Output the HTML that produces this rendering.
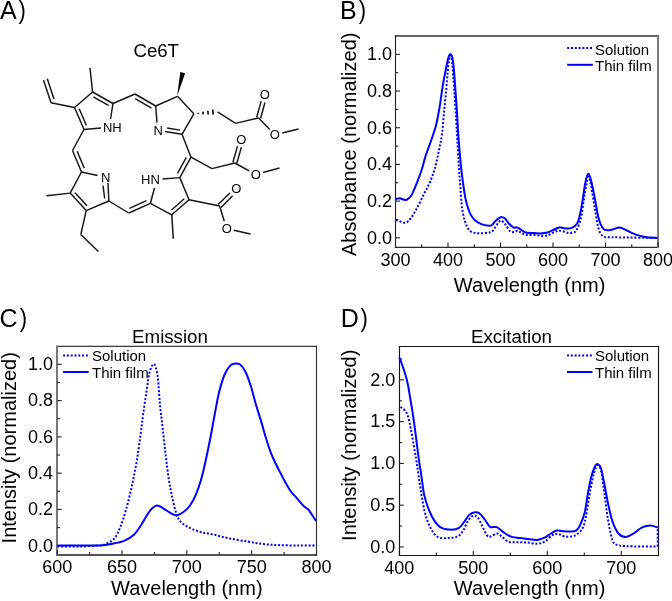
<!DOCTYPE html>
<html><head><meta charset="utf-8"><style>
html,body{margin:0;padding:0;background:#fff;}
svg{display:block;}
text{font-family:"Liberation Sans", sans-serif;fill:#000;}
svg{will-change:transform;}
</style></head><body>
<svg width="672" height="601" viewBox="0 0 672 601">
<rect width="672" height="601" fill="#fff"/>
<text x="0" y="18.6" font-size="25" text-anchor="start">A</text>
<text x="0" y="0" font-size="26" transform="translate(18.5 18.6) scale(0.85 1)">)</text>
<text x="340.1" y="19" font-size="25" text-anchor="start">B</text>
<text x="0" y="0" font-size="26" transform="translate(358.8 19) scale(0.85 1)">)</text>
<text x="-0.5" y="326.6" font-size="25" text-anchor="start">C</text>
<text x="0" y="0" font-size="26" transform="translate(19.8 326.6) scale(0.85 1)">)</text>
<text x="340.75" y="327" font-size="25" text-anchor="start">D</text>
<text x="0" y="0" font-size="26" transform="translate(360.6 327) scale(0.85 1)">)</text>
<text x="133.5" y="56.5" font-size="18.6" text-anchor="start">Ce6T</text>
<line x1="394.95" y1="36" x2="659" y2="36" stroke="#666" stroke-width="2"/>
<line x1="394.95" y1="247.4" x2="659" y2="247.4" stroke="#2a2a2a" stroke-width="1.2"/>
<line x1="395.5" y1="35" x2="395.5" y2="248" stroke="#1e1e1e" stroke-width="1.1"/>
<line x1="658" y1="35" x2="658" y2="248" stroke="#777" stroke-width="2"/>
<line x1="395.5" y1="247" x2="395.5" y2="242.5" stroke="#222" stroke-width="1.1"/>
<line x1="448" y1="247" x2="448" y2="242.5" stroke="#222" stroke-width="1.1"/>
<line x1="500.5" y1="247" x2="500.5" y2="242.5" stroke="#222" stroke-width="1.1"/>
<line x1="553" y1="247" x2="553" y2="242.5" stroke="#222" stroke-width="1.1"/>
<line x1="605.5" y1="247" x2="605.5" y2="242.5" stroke="#222" stroke-width="1.1"/>
<line x1="658" y1="247" x2="658" y2="242.5" stroke="#222" stroke-width="1.1"/>
<line x1="421.75" y1="247" x2="421.75" y2="244.2" stroke="#222" stroke-width="1.1"/>
<line x1="474.25" y1="247" x2="474.25" y2="244.2" stroke="#222" stroke-width="1.1"/>
<line x1="526.75" y1="247" x2="526.75" y2="244.2" stroke="#222" stroke-width="1.1"/>
<line x1="579.25" y1="247" x2="579.25" y2="244.2" stroke="#222" stroke-width="1.1"/>
<line x1="631.75" y1="247" x2="631.75" y2="244.2" stroke="#222" stroke-width="1.1"/>
<line x1="395.5" y1="237.83" x2="400" y2="237.83" stroke="#222" stroke-width="1.1"/>
<line x1="395.5" y1="201.13" x2="400" y2="201.13" stroke="#222" stroke-width="1.1"/>
<line x1="395.5" y1="164.43" x2="400" y2="164.43" stroke="#222" stroke-width="1.1"/>
<line x1="395.5" y1="127.74" x2="400" y2="127.74" stroke="#222" stroke-width="1.1"/>
<line x1="395.5" y1="91.04" x2="400" y2="91.04" stroke="#222" stroke-width="1.1"/>
<line x1="395.5" y1="54.35" x2="400" y2="54.35" stroke="#222" stroke-width="1.1"/>
<line x1="395.5" y1="219.48" x2="398.3" y2="219.48" stroke="#222" stroke-width="1.1"/>
<line x1="395.5" y1="182.78" x2="398.3" y2="182.78" stroke="#222" stroke-width="1.1"/>
<line x1="395.5" y1="146.09" x2="398.3" y2="146.09" stroke="#222" stroke-width="1.1"/>
<line x1="395.5" y1="109.39" x2="398.3" y2="109.39" stroke="#222" stroke-width="1.1"/>
<line x1="395.5" y1="72.7" x2="398.3" y2="72.7" stroke="#222" stroke-width="1.1"/>
<text x="395.5" y="265.6" font-size="18" text-anchor="middle">300</text>
<text x="448" y="265.6" font-size="18" text-anchor="middle">400</text>
<text x="500.5" y="265.6" font-size="18" text-anchor="middle">500</text>
<text x="553" y="265.6" font-size="18" text-anchor="middle">600</text>
<text x="605.5" y="265.6" font-size="18" text-anchor="middle">700</text>
<text x="658" y="265.6" font-size="18" text-anchor="middle">800</text>
<text x="392" y="243.63" font-size="18" text-anchor="end">0.0</text>
<text x="392" y="206.93" font-size="18" text-anchor="end">0.2</text>
<text x="392" y="170.23" font-size="18" text-anchor="end">0.4</text>
<text x="392" y="133.54" font-size="18" text-anchor="end">0.6</text>
<text x="392" y="96.84" font-size="18" text-anchor="end">0.8</text>
<text x="392" y="60.15" font-size="18" text-anchor="end">1.0</text>
<text x="529.6" y="291.8" font-size="20" text-anchor="middle">Wavelength (nm)</text>
<text x="356.3" y="144.3" font-size="20" text-anchor="middle" transform="rotate(-90 356.3 144.3)">Absorbance (normalized)</text>
<line x1="567.2" y1="48" x2="592.8" y2="48" stroke="#0000ff" stroke-width="2" stroke-dasharray="2 1.8"/>
<line x1="567.2" y1="64.8" x2="592.8" y2="64.8" stroke="#0000ff" stroke-width="2"/>
<text x="595" y="54.5" font-size="15" text-anchor="start">Solution</text>
<text x="595" y="71.2" font-size="15" text-anchor="start">Thin film</text>
<path d="M396,198.9 C396.67,198.8 398.75,198.18 400,198.3 C401.25,198.42 402.33,199.38 403.5,199.6 C404.67,199.82 405.6,200.47 407,199.6 C408.4,198.73 410.17,197.4 411.9,194.4 C413.63,191.4 415.72,185.87 417.4,181.6 C419.08,177.33 420.63,173.08 422,168.8 C423.37,164.52 424.23,160.18 425.6,155.9 C426.97,151.62 428.52,147.98 430.2,143.1 C431.88,138.22 434.17,132.4 435.7,126.6 C437.23,120.8 438.33,114.4 439.4,108.3 C440.47,102.2 441.4,94.55 442.1,90 C442.8,85.45 442.92,84.75 443.6,81 C444.28,77.25 445.4,71.42 446.2,67.5 C447,63.58 447.7,59.72 448.4,57.5 C449.1,55.28 449.77,54.28 450.4,54.2 C451.03,54.12 451.65,54.78 452.2,57 C452.75,59.22 453.2,62.52 453.7,67.5 C454.2,72.48 454.7,80.17 455.2,86.9 C455.7,93.63 456.23,100.72 456.7,107.9 C457.17,115.08 457.53,122.98 458,130 C458.47,137.02 458.93,143.33 459.5,150 C460.07,156.67 460.73,163.97 461.4,170 C462.07,176.03 462.87,181.68 463.5,186.2 C464.13,190.72 464.57,193.85 465.2,197.1 C465.83,200.35 466.4,202.82 467.3,205.7 C468.2,208.58 469.33,211.97 470.6,214.4 C471.87,216.83 473.1,218.68 474.9,220.3 C476.7,221.92 479.05,223.2 481.4,224.1 C483.75,225 487.28,225.52 489,225.7 C490.72,225.88 490.62,226 491.7,225.2 C492.78,224.4 494.15,222.17 495.5,220.9 C496.85,219.63 498.83,218.25 499.8,217.6 C500.77,216.95 500.43,216.85 501.3,217 C502.17,217.15 503.77,217.45 505,218.5 C506.23,219.55 507.33,221.82 508.7,223.3 C510.07,224.78 511.83,226.72 513.2,227.4 C514.57,228.08 515.78,227.15 516.9,227.4 C518.02,227.65 518.55,228.1 519.9,228.9 C521.25,229.7 522.9,231.52 525,232.2 C527.1,232.88 530,232.8 532.5,233 C535,233.2 537.52,233.48 540,233.4 C542.48,233.32 545.18,233.07 547.4,232.5 C549.62,231.93 551.32,230.85 553.3,230 C555.28,229.15 557.32,227.67 559.3,227.4 C561.28,227.13 563.42,228.23 565.2,228.4 C566.98,228.57 568.38,228.8 570,228.4 C571.62,228 573.47,227.38 574.9,226 C576.33,224.62 577.37,224.07 578.6,220.1 C579.83,216.13 581.18,208.4 582.3,202.2 C583.42,196 584.3,187.63 585.3,182.9 C586.3,178.17 587.3,174.05 588.3,173.8 C589.3,173.55 590.18,177.17 591.3,181.4 C592.42,185.63 593.77,193 595,199.2 C596.23,205.4 597.33,213.68 598.7,218.6 C600.07,223.52 601.47,226.77 603.2,228.7 C604.93,230.63 607.3,230.15 609.1,230.2 C610.9,230.25 612.27,229.45 614,229 C615.73,228.55 617.33,227.25 619.5,227.5 C621.67,227.75 624.27,229.32 627,230.5 C629.73,231.68 632.68,233.48 635.9,234.6 C639.12,235.72 642.7,236.65 646.3,237.2 C649.9,237.75 655.63,237.78 657.5,237.9" fill="none" stroke="#0000ff" stroke-width="2" stroke-linejoin="round"/>
<path d="M396,219.8 C396.83,220.13 399.33,221.33 401,221.8 C402.67,222.27 404.33,223.23 406,222.6 C407.67,221.97 409.17,220.43 411,218 C412.83,215.57 414.83,212 417,208 C419.17,204 421.83,198.33 424,194 C426.17,189.67 428.17,186.33 430,182 C431.83,177.67 433.5,173.33 435,168 C436.5,162.67 437.83,155.67 439,150 C440.17,144.33 441.17,140.27 442,134 C442.83,127.73 443.3,119.75 444,112.4 C444.7,105.05 445.58,96.63 446.2,89.9 C446.82,83.17 447.2,77.23 447.7,72 C448.2,66.77 448.75,61.25 449.2,58.5 C449.65,55.75 449.95,55.25 450.4,55.5 C450.85,55.75 451.43,56.75 451.9,60 C452.37,63.25 452.73,68.77 453.2,75 C453.67,81.23 454.2,89.92 454.7,97.4 C455.2,104.88 455.77,112.8 456.2,119.9 C456.63,127 456.92,133.32 457.3,140 C457.68,146.68 458.18,154.63 458.5,160 C458.82,165.37 458.9,167.83 459.2,172.2 C459.5,176.57 459.93,181.15 460.3,186.2 C460.67,191.25 460.95,197.98 461.4,202.5 C461.85,207.02 462.37,210.05 463,213.3 C463.63,216.55 464.3,219.38 465.2,222 C466.1,224.62 467.23,227.3 468.4,229 C469.57,230.7 470.4,231.48 472.2,232.2 C474,232.92 476.58,233.23 479.2,233.3 C481.82,233.37 485.82,232.87 487.9,232.6 C489.98,232.33 490.62,232.4 491.7,231.7 C492.78,231 493.32,229.85 494.4,228.4 C495.48,226.95 497.05,224.3 498.2,223 C499.35,221.7 500.05,220.3 501.3,220.6 C502.55,220.9 504.22,222.98 505.7,224.8 C507.18,226.62 508.83,230.32 510.2,231.5 C511.57,232.68 512.67,232.03 513.9,231.9 C515.13,231.77 516.37,230.52 517.6,230.7 C518.83,230.88 519.82,232.3 521.3,233 C522.78,233.7 524.38,234.58 526.5,234.9 C528.62,235.22 531.27,234.73 534,234.9 C536.73,235.07 540.42,235.9 542.9,235.9 C545.38,235.9 546.92,235.57 548.9,234.9 C550.88,234.23 553.07,232.6 554.8,231.9 C556.53,231.2 557.57,230.7 559.3,230.7 C561.03,230.7 563.6,231.48 565.2,231.9 C566.8,232.32 567.6,233.1 568.9,233.2 C570.2,233.3 571.75,233 573,232.5 C574.25,232 575.1,232.52 576.4,230.2 C577.7,227.88 579.43,224.5 580.8,218.6 C582.17,212.7 583.35,201.75 584.6,194.8 C585.85,187.85 587.18,178.15 588.3,176.9 C589.42,175.65 590.18,181.85 591.3,187.3 C592.42,192.75 593.77,202.65 595,209.6 C596.23,216.55 597.33,224.53 598.7,229 C600.07,233.47 601.32,235.03 603.2,236.4 C605.08,237.77 607.28,237.03 610,237.2 C612.72,237.37 611.58,237.28 619.5,237.4 C627.42,237.52 651.17,237.82 657.5,237.9" fill="none" stroke="#0000ff" stroke-width="2" stroke-dasharray="2 1.8" stroke-linejoin="round"/>
<line x1="56" y1="346.3" x2="317.05" y2="346.3" stroke="#3a3a3a" stroke-width="1.3"/>
<line x1="56" y1="555" x2="317.05" y2="555" stroke="#555" stroke-width="1.8"/>
<line x1="57" y1="345.65" x2="57" y2="555.9" stroke="#777" stroke-width="2"/>
<line x1="316.5" y1="345.65" x2="316.5" y2="555.9" stroke="#2e2e2e" stroke-width="1.1"/>
<line x1="57.2" y1="554.8" x2="57.2" y2="550.3" stroke="#222" stroke-width="1.1"/>
<line x1="122.03" y1="554.8" x2="122.03" y2="550.3" stroke="#222" stroke-width="1.1"/>
<line x1="186.85" y1="554.8" x2="186.85" y2="550.3" stroke="#222" stroke-width="1.1"/>
<line x1="251.68" y1="554.8" x2="251.68" y2="550.3" stroke="#222" stroke-width="1.1"/>
<line x1="316.5" y1="554.8" x2="316.5" y2="550.3" stroke="#222" stroke-width="1.1"/>
<line x1="89.61" y1="554.8" x2="89.61" y2="552" stroke="#222" stroke-width="1.1"/>
<line x1="154.44" y1="554.8" x2="154.44" y2="552" stroke="#222" stroke-width="1.1"/>
<line x1="219.26" y1="554.8" x2="219.26" y2="552" stroke="#222" stroke-width="1.1"/>
<line x1="284.09" y1="554.8" x2="284.09" y2="552" stroke="#222" stroke-width="1.1"/>
<line x1="57.2" y1="545.73" x2="61.7" y2="545.73" stroke="#222" stroke-width="1.1"/>
<line x1="57.2" y1="509.45" x2="61.7" y2="509.45" stroke="#222" stroke-width="1.1"/>
<line x1="57.2" y1="473.17" x2="61.7" y2="473.17" stroke="#222" stroke-width="1.1"/>
<line x1="57.2" y1="436.9" x2="61.7" y2="436.9" stroke="#222" stroke-width="1.1"/>
<line x1="57.2" y1="400.62" x2="61.7" y2="400.62" stroke="#222" stroke-width="1.1"/>
<line x1="57.2" y1="364.34" x2="61.7" y2="364.34" stroke="#222" stroke-width="1.1"/>
<line x1="57.2" y1="527.59" x2="60" y2="527.59" stroke="#222" stroke-width="1.1"/>
<line x1="57.2" y1="491.31" x2="60" y2="491.31" stroke="#222" stroke-width="1.1"/>
<line x1="57.2" y1="455.03" x2="60" y2="455.03" stroke="#222" stroke-width="1.1"/>
<line x1="57.2" y1="418.76" x2="60" y2="418.76" stroke="#222" stroke-width="1.1"/>
<line x1="57.2" y1="382.48" x2="60" y2="382.48" stroke="#222" stroke-width="1.1"/>
<text x="57.2" y="572.8" font-size="18" text-anchor="middle">600</text>
<text x="122.03" y="572.8" font-size="18" text-anchor="middle">650</text>
<text x="186.85" y="572.8" font-size="18" text-anchor="middle">700</text>
<text x="251.68" y="572.8" font-size="18" text-anchor="middle">750</text>
<text x="316.5" y="572.8" font-size="18" text-anchor="middle">800</text>
<text x="53.1" y="551.53" font-size="18" text-anchor="end">0.0</text>
<text x="53.1" y="515.25" font-size="18" text-anchor="end">0.2</text>
<text x="53.1" y="478.97" font-size="18" text-anchor="end">0.4</text>
<text x="53.1" y="442.7" font-size="18" text-anchor="end">0.6</text>
<text x="53.1" y="406.42" font-size="18" text-anchor="end">0.8</text>
<text x="53.1" y="370.14" font-size="18" text-anchor="end">1.0</text>
<text x="170" y="342.6" font-size="18.7" text-anchor="middle">Emission</text>
<text x="186.8" y="594.8" font-size="20" text-anchor="middle">Wavelength (nm)</text>
<text x="16.4" y="447.8" font-size="20" text-anchor="middle" transform="rotate(-90 16.4 447.8)">Intensity (normalized)</text>
<line x1="63.1" y1="355.6" x2="88.7" y2="355.6" stroke="#0000ff" stroke-width="2" stroke-dasharray="2 1.8"/>
<line x1="63.1" y1="372" x2="88.7" y2="372" stroke="#0000ff" stroke-width="2"/>
<text x="92" y="361.1" font-size="15" text-anchor="start">Solution</text>
<text x="92" y="377.5" font-size="15" text-anchor="start">Thin film</text>
<path d="M57.5,545.5 C61.25,545.48 72.92,545.42 80,545.4 C87.08,545.38 94.67,545.67 100,545.4 C105.33,545.13 108,544.57 112,543.8 C116,543.03 120.35,542.3 124,540.8 C127.65,539.3 130.92,537.63 133.9,534.8 C136.88,531.97 139.23,527.8 141.9,523.8 C144.57,519.8 147.4,513.87 149.9,510.8 C152.4,507.73 154.57,505.73 156.9,505.4 C159.23,505.07 161.4,507.4 163.9,508.8 C166.4,510.2 169.75,512.7 171.9,513.8 C174.05,514.9 174.82,515.73 176.8,515.4 C178.78,515.07 181.6,513.45 183.8,511.8 C186,510.15 188,508.33 190,505.5 C192,502.67 194.03,498.83 195.8,494.8 C197.57,490.77 199.05,486.57 200.6,481.3 C202.15,476.03 203.45,470.55 205.1,463.2 C206.75,455.85 208.87,445.5 210.5,437.2 C212.13,428.9 213.45,420.97 214.9,413.4 C216.35,405.83 217.58,398.28 219.2,391.8 C220.82,385.32 222.8,378.83 224.6,374.5 C226.4,370.17 228.38,367.6 230,365.8 C231.62,364 232.67,363.95 234.3,363.7 C235.93,363.45 237.98,363.05 239.8,364.3 C241.62,365.55 243.4,367.7 245.2,371.2 C247,374.7 248.8,379.7 250.6,385.3 C252.4,390.9 254.2,398.67 256,404.8 C257.8,410.93 259.78,416.7 261.4,422.1 C263.02,427.5 264.08,431.98 265.7,437.2 C267.32,442.42 269.3,448.72 271.1,453.4 C272.9,458.08 274.85,461.87 276.5,465.3 C278.15,468.73 279.62,471.33 281,474 C282.38,476.67 283.2,478.47 284.8,481.3 C286.4,484.13 288.67,488.27 290.6,491 C292.53,493.73 294.15,495.13 296.4,497.7 C298.65,500.27 302,504.3 304.1,506.4 C306.2,508.5 307.02,507.87 309,510.3 C310.98,512.73 314.83,519.22 316,521" fill="none" stroke="#0000ff" stroke-width="2" stroke-linejoin="round"/>
<path d="M57.5,546.6 C61.25,546.57 72.92,546.6 80,546.4 C87.08,546.2 95.67,545.83 100,545.4 C104.33,544.97 103.67,544.9 106,543.8 C108.33,542.7 111.67,541.47 114,538.8 C116.33,536.13 118,532.63 120,527.8 C122,522.97 124.02,516.78 126,509.8 C127.98,502.82 130.08,494.2 131.9,485.9 C133.72,477.6 135.4,468.98 136.9,460 C138.4,451.02 139.88,439.5 140.9,432 C141.92,424.5 142.15,421.17 143,415 C143.85,408.83 145,401.67 146,395 C147,388.33 148.08,379.67 149,375 C149.92,370.33 150.73,368.83 151.5,367 C152.27,365.17 152.88,363.92 153.6,364 C154.32,364.08 155.07,365 155.8,367.5 C156.53,370 157.3,372.75 158,379 C158.7,385.25 159.17,396.33 160,405 C160.83,413.67 162.02,422.33 163,431 C163.98,439.67 164.92,448.85 165.9,457 C166.88,465.15 167.9,473.42 168.9,479.9 C169.9,486.38 170.75,490.58 171.9,495.9 C173.05,501.22 174.48,507.65 175.8,511.8 C177.12,515.95 177.8,518.3 179.8,520.8 C181.8,523.3 184.47,524.97 187.8,526.8 C191.13,528.63 195.57,530.52 199.8,531.8 C204.03,533.08 208.38,533.42 213.2,534.5 C218.02,535.58 222.9,537.12 228.7,538.3 C234.5,539.48 242.2,540.63 248,541.6 C253.8,542.57 258.33,543.52 263.5,544.1 C268.67,544.68 273.2,544.87 279,545.1 C284.8,545.33 292.13,545.43 298.3,545.5 C304.47,545.57 313.05,545.5 316,545.5" fill="none" stroke="#0000ff" stroke-width="2" stroke-dasharray="2 1.8" stroke-linejoin="round"/>
<line x1="398.93" y1="346.5" x2="659.08" y2="346.5" stroke="#151515" stroke-width="1.15"/>
<line x1="398.93" y1="555.5" x2="659.08" y2="555.5" stroke="#151515" stroke-width="1.15"/>
<line x1="399.5" y1="345.93" x2="399.5" y2="556.08" stroke="#151515" stroke-width="1.15"/>
<line x1="658.5" y1="345.93" x2="658.5" y2="556.08" stroke="#151515" stroke-width="1.15"/>
<line x1="399.3" y1="555.3" x2="399.3" y2="550.8" stroke="#222" stroke-width="1.1"/>
<line x1="473.3" y1="555.3" x2="473.3" y2="550.8" stroke="#222" stroke-width="1.1"/>
<line x1="547.3" y1="555.3" x2="547.3" y2="550.8" stroke="#222" stroke-width="1.1"/>
<line x1="621.3" y1="555.3" x2="621.3" y2="550.8" stroke="#222" stroke-width="1.1"/>
<line x1="436.3" y1="555.3" x2="436.3" y2="552.5" stroke="#222" stroke-width="1.1"/>
<line x1="510.3" y1="555.3" x2="510.3" y2="552.5" stroke="#222" stroke-width="1.1"/>
<line x1="584.3" y1="555.3" x2="584.3" y2="552.5" stroke="#222" stroke-width="1.1"/>
<line x1="399.3" y1="546.95" x2="403.8" y2="546.95" stroke="#222" stroke-width="1.1"/>
<line x1="399.3" y1="505.19" x2="403.8" y2="505.19" stroke="#222" stroke-width="1.1"/>
<line x1="399.3" y1="463.43" x2="403.8" y2="463.43" stroke="#222" stroke-width="1.1"/>
<line x1="399.3" y1="421.67" x2="403.8" y2="421.67" stroke="#222" stroke-width="1.1"/>
<line x1="399.3" y1="379.91" x2="403.8" y2="379.91" stroke="#222" stroke-width="1.1"/>
<line x1="399.3" y1="526.07" x2="402.1" y2="526.07" stroke="#222" stroke-width="1.1"/>
<line x1="399.3" y1="484.31" x2="402.1" y2="484.31" stroke="#222" stroke-width="1.1"/>
<line x1="399.3" y1="442.55" x2="402.1" y2="442.55" stroke="#222" stroke-width="1.1"/>
<line x1="399.3" y1="400.79" x2="402.1" y2="400.79" stroke="#222" stroke-width="1.1"/>
<line x1="399.3" y1="359.03" x2="402.1" y2="359.03" stroke="#222" stroke-width="1.1"/>
<text x="399.3" y="574" font-size="18" text-anchor="middle">400</text>
<text x="473.3" y="574" font-size="18" text-anchor="middle">500</text>
<text x="547.3" y="574" font-size="18" text-anchor="middle">600</text>
<text x="621.3" y="574" font-size="18" text-anchor="middle">700</text>
<text x="395.4" y="552.75" font-size="18" text-anchor="end">0.0</text>
<text x="395.4" y="510.99" font-size="18" text-anchor="end">0.5</text>
<text x="395.4" y="469.23" font-size="18" text-anchor="end">1.0</text>
<text x="395.4" y="427.47" font-size="18" text-anchor="end">1.5</text>
<text x="395.4" y="385.71" font-size="18" text-anchor="end">2.0</text>
<text x="511.5" y="342.6" font-size="18.7" text-anchor="middle">Excitation</text>
<text x="529.6" y="595" font-size="20" text-anchor="middle">Wavelength (nm)</text>
<text x="356" y="445.3" font-size="20" text-anchor="middle" transform="rotate(-90 356 445.3)">Intensity (normalized)</text>
<line x1="567" y1="355.6" x2="592.5" y2="355.6" stroke="#0000ff" stroke-width="2" stroke-dasharray="2 1.8"/>
<line x1="567" y1="372" x2="592.5" y2="372" stroke="#0000ff" stroke-width="2"/>
<text x="595" y="361.1" font-size="15" text-anchor="start">Solution</text>
<text x="595" y="377.5" font-size="15" text-anchor="start">Thin film</text>
<path d="M399.3,357.5 C399.78,358.75 401.17,362.08 402.2,365 C403.23,367.92 404.53,371.67 405.5,375 C406.47,378.33 407.17,380.83 408,385 C408.83,389.17 409.67,395 410.5,400 C411.33,405 412.17,409.45 413,415 C413.83,420.55 414.55,426.08 415.5,433.3 C416.45,440.52 417.7,451.08 418.7,458.3 C419.7,465.52 420.58,470.5 421.5,476.6 C422.42,482.7 422.98,489.4 424.2,494.9 C425.42,500.4 427.12,505.32 428.8,509.6 C430.48,513.88 432.17,517.55 434.3,520.6 C436.43,523.65 438.7,526.38 441.6,527.9 C444.5,529.42 448.8,529.7 451.7,529.7 C454.6,529.7 456.87,529.27 459,527.9 C461.13,526.53 462.82,523.63 464.5,521.5 C466.18,519.37 467.35,516.63 469.1,515.1 C470.85,513.57 473.3,512.62 475,512.3 C476.7,511.98 477.62,511.92 479.3,513.2 C480.98,514.48 483.32,517.73 485.1,520 C486.88,522.27 488.05,525.62 490,526.8 C491.95,527.98 494.7,526.3 496.8,527.1 C498.9,527.9 500.35,530.05 502.6,531.6 C504.85,533.15 507.4,535.33 510.3,536.4 C513.2,537.47 516.78,537.52 520,538 C523.22,538.48 526.7,538.98 529.6,539.3 C532.5,539.62 534.82,540.22 537.4,539.9 C539.98,539.58 542.85,538.47 545.1,537.4 C547.35,536.33 548.97,534.63 550.9,533.5 C552.83,532.37 554.77,530.98 556.7,530.6 C558.63,530.22 560.23,531.03 562.5,531.2 C564.77,531.37 568.03,531.7 570.3,531.6 C572.57,531.5 574.48,531.63 576.1,530.6 C577.72,529.57 578.57,528.4 580,525.4 C581.43,522.4 583.33,518.23 584.7,512.6 C586.07,506.97 587.03,497.82 588.2,491.6 C589.37,485.38 590.53,479.58 591.7,475.3 C592.87,471.02 594.15,467.77 595.2,465.9 C596.25,464.03 597.03,463.7 598,464.1 C598.97,464.5 599.92,464.88 601,468.3 C602.08,471.72 603.33,478.78 604.5,484.6 C605.67,490.42 606.65,496.98 608,503.2 C609.35,509.42 610.85,516.85 612.6,521.9 C614.35,526.95 616.35,530.98 618.5,533.5 C620.65,536.02 622.98,537 625.5,537 C628.02,537 630.88,535.05 633.6,533.5 C636.32,531.95 639,529.02 641.8,527.7 C644.6,526.38 647.73,525.62 650.4,525.6 C653.07,525.58 656.57,527.27 657.8,527.6" fill="none" stroke="#0000ff" stroke-width="2" stroke-linejoin="round"/>
<path d="M400.5,407 C401.05,407.37 402.68,408 403.8,409.2 C404.92,410.4 406.22,411.85 407.2,414.2 C408.18,416.55 408.87,419.55 409.7,423.3 C410.53,427.05 411.15,430.87 412.2,436.7 C413.25,442.53 414.92,451.65 416,458.3 C417.08,464.95 417.78,470.5 418.7,476.6 C419.62,482.7 420.43,488.78 421.5,494.9 C422.57,501.02 423.58,507.8 425.1,513.3 C426.62,518.8 428.45,523.93 430.6,527.9 C432.75,531.87 434.93,535.42 438,537.1 C441.07,538.78 445.65,538.15 449,538 C452.35,537.85 455.67,537.58 458.1,536.2 C460.53,534.82 461.92,532.3 463.6,529.7 C465.28,527.1 466.7,522.87 468.2,520.6 C469.7,518.33 471.07,516.68 472.6,516.1 C474.13,515.52 475.8,515.48 477.4,517.1 C479,518.72 480.58,522.73 482.2,525.8 C483.82,528.87 485.63,533.73 487.1,535.5 C488.57,537.27 489.38,536.73 491,536.4 C492.62,536.07 495.03,533.5 496.8,533.5 C498.57,533.5 499.67,535.02 501.6,536.4 C503.53,537.78 505.67,540.83 508.4,541.8 C511.13,542.77 514.78,542.07 518,542.2 C521.22,542.33 524.47,542.33 527.7,542.6 C530.93,542.87 534.5,544.02 537.4,543.8 C540.3,543.58 542.53,542.78 545.1,541.3 C547.67,539.82 550.55,536.1 552.8,534.9 C555.05,533.7 556.67,533.85 558.6,534.1 C560.53,534.35 562.13,536.02 564.4,536.4 C566.67,536.78 569.93,536.88 572.2,536.4 C574.47,535.92 576.23,534.95 578,533.5 C579.77,532.05 581.5,530.42 582.8,527.7 C584.1,524.98 584.52,523.6 585.8,517.2 C587.08,510.8 589.13,496.68 590.5,489.3 C591.87,481.92 592.83,476.87 594,472.9 C595.17,468.93 596.33,465.88 597.5,465.5 C598.67,465.12 599.83,465.87 601,470.6 C602.17,475.33 603.33,485.73 604.5,493.9 C605.67,502.07 606.65,511.83 608,519.6 C609.35,527.37 610.85,536.23 612.6,540.5 C614.35,544.77 615,544.22 618.5,545.2 C622,546.18 627.1,546.2 633.6,546.4 C640.1,546.6 653.52,546.4 657.5,546.4" fill="none" stroke="#0000ff" stroke-width="2" stroke-dasharray="2 1.8" stroke-linejoin="round"/>
<line x1="657.7" y1="546.4" x2="657.7" y2="527.8" stroke="#0000ff" stroke-width="2" stroke-dasharray="2 1.8"/>
<g stroke="#151515" stroke-width="1.45" stroke-linecap="butt" fill="none">
<line x1="43.50" y1="80.00" x2="51.00" y2="102.80"/>
<line x1="47.30" y1="78.75" x2="53.96" y2="98.99"/>
<line x1="51.00" y1="102.80" x2="74.50" y2="107.50"/>
<line x1="74.50" y1="107.50" x2="92.60" y2="92.00"/>
<line x1="92.60" y1="92.00" x2="90.00" y2="68.00"/>
<line x1="92.60" y1="92.00" x2="113.00" y2="103.50"/>
<line x1="93.35" y1="96.78" x2="108.52" y2="105.34"/>
<line x1="113.00" y1="103.50" x2="110.50" y2="119.00"/>
<line x1="84.00" y1="129.50" x2="101.00" y2="128.00"/>
<line x1="84.00" y1="129.50" x2="74.50" y2="107.50"/>
<line x1="86.30" y1="125.24" x2="79.18" y2="108.75"/>
<line x1="113.00" y1="103.50" x2="135.00" y2="94.00"/>
<line x1="135.00" y1="94.00" x2="155.70" y2="106.00"/>
<line x1="135.16" y1="98.71" x2="151.53" y2="108.21"/>
<line x1="155.70" y1="106.00" x2="177.50" y2="96.30"/>
<line x1="177.50" y1="96.30" x2="193.80" y2="113.80"/>
<line x1="193.80" y1="113.80" x2="182.00" y2="134.30"/>
<line x1="155.70" y1="106.00" x2="157.00" y2="122.50"/>
<line x1="165.00" y1="131.50" x2="182.00" y2="134.30"/>
<line x1="167.12" y1="127.93" x2="180.17" y2="130.14"/>
<line x1="217.50" y1="111.80" x2="235.60" y2="123.40"/>
<line x1="235.60" y1="123.40" x2="258.60" y2="118.00"/>
<line x1="182.00" y1="134.30" x2="191.00" y2="157.20"/>
<line x1="191.00" y1="157.20" x2="179.80" y2="177.60"/>
<line x1="186.29" y1="157.47" x2="177.50" y2="173.48"/>
<line x1="191.00" y1="157.20" x2="212.00" y2="168.60"/>
<line x1="212.00" y1="168.60" x2="234.80" y2="163.00"/>
<line x1="179.80" y1="177.60" x2="162.50" y2="179.00"/>
<line x1="150.40" y1="203.30" x2="154.50" y2="188.00"/>
<line x1="150.40" y1="203.30" x2="171.80" y2="214.80"/>
<line x1="171.80" y1="214.80" x2="189.00" y2="199.70"/>
<line x1="171.55" y1="209.97" x2="184.24" y2="198.82"/>
<line x1="189.00" y1="199.70" x2="179.80" y2="177.60"/>
<line x1="171.80" y1="214.80" x2="173.30" y2="238.70"/>
<line x1="189.00" y1="199.70" x2="219.60" y2="206.00"/>
<line x1="150.40" y1="203.30" x2="128.80" y2="213.00"/>
<line x1="146.48" y1="200.68" x2="129.44" y2="208.33"/>
<line x1="128.80" y1="213.00" x2="108.80" y2="201.00"/>
<line x1="81.50" y1="172.00" x2="97.50" y2="175.50"/>
<line x1="108.00" y1="183.00" x2="108.80" y2="201.00"/>
<line x1="103.03" y1="185.71" x2="104.65" y2="198.50"/>
<line x1="108.80" y1="201.00" x2="86.20" y2="210.60"/>
<line x1="86.20" y1="210.60" x2="70.20" y2="193.10"/>
<line x1="86.98" y1="205.82" x2="75.03" y2="192.75"/>
<line x1="70.20" y1="193.10" x2="81.50" y2="172.00"/>
<line x1="70.20" y1="193.10" x2="46.40" y2="195.70"/>
<line x1="86.20" y1="210.60" x2="80.80" y2="234.50"/>
<line x1="80.80" y1="234.50" x2="98.30" y2="251.40"/>
<line x1="81.50" y1="172.00" x2="72.50" y2="150.50"/>
<line x1="84.22" y1="168.15" x2="77.16" y2="151.26"/>
<line x1="72.50" y1="150.50" x2="84.00" y2="129.50"/>
<line x1="260.53" y1="118.53" x2="264.94" y2="102.46"/>
<line x1="256.67" y1="117.47" x2="261.08" y2="101.40"/>
<line x1="258.60" y1="118.00" x2="269.76" y2="129.43"/>
<line x1="282.28" y1="133.00" x2="298.50" y2="129.00"/>
<line x1="236.72" y1="163.55" x2="241.37" y2="147.26"/>
<line x1="232.88" y1="162.45" x2="237.52" y2="146.16"/>
<line x1="234.80" y1="163.00" x2="249.13" y2="170.88"/>
<line x1="262.94" y1="172.52" x2="279.50" y2="168.00"/>
<line x1="221.02" y1="207.41" x2="232.63" y2="195.73"/>
<line x1="218.18" y1="204.59" x2="229.79" y2="192.91"/>
<line x1="219.60" y1="206.00" x2="224.30" y2="221.33"/>
<line x1="233.81" y1="230.18" x2="250.50" y2="234.00"/>
</g>
<polygon points="177.11,96.21 185.14,73.14 180.26,72.06" fill="#000"/>
<line x1="198.24" y1="112.72" x2="198.36" y2="114.12" stroke="#000" stroke-width="1.6"/>
<line x1="202.93" y1="111.67" x2="203.16" y2="114.37" stroke="#000" stroke-width="1.6"/>
<line x1="207.86" y1="110.71" x2="208.18" y2="114.49" stroke="#000" stroke-width="1.6"/>
<line x1="212.79" y1="109.69" x2="213.21" y2="114.67" stroke="#000" stroke-width="1.6"/>
<text x="102.96" y="131.50" font-size="13">NH</text>
<text x="153.46" y="134.50" font-size="13">N</text>
<text x="141.00" y="184.00" font-size="13">HN</text>
<text x="100.96" y="181.50" font-size="13">N</text>
<text x="259.85" y="99.30" font-size="13">O</text>
<text x="269.85" y="139.30" font-size="13">O</text>
<text x="236.35" y="143.80" font-size="13">O</text>
<text x="250.85" y="178.80" font-size="13">O</text>
<text x="231.35" y="193.30" font-size="13">O</text>
<text x="221.85" y="232.80" font-size="13">O</text>

</svg>
</body></html>
